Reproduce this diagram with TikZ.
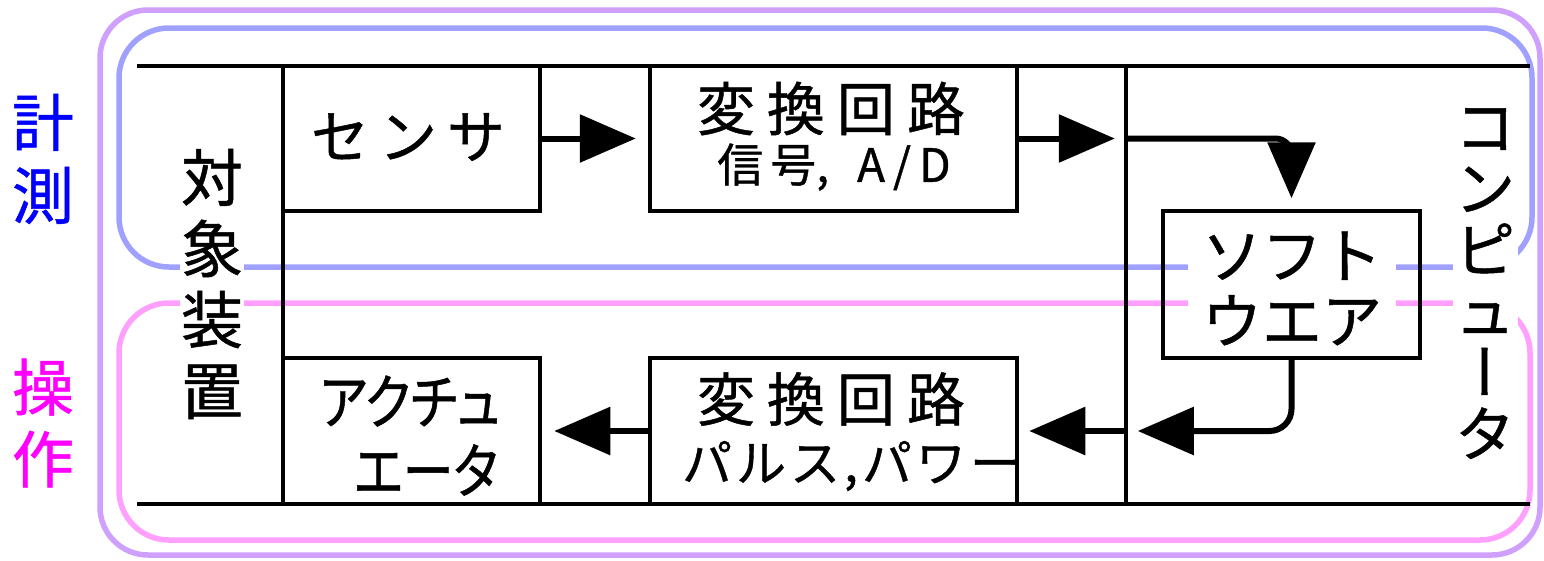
\documentclass[tikz,border=0pt]{standalone}
\usepackage{fontspec}
\usetikzlibrary{arrows.meta,calc}
\newfontfamily\jp[FakeBold=0.8]{Noto Sans CJK JP}
\newfontfamily\jpp[RawFeature=+palt, FakeStretch=0.85, FakeBold=0.8]{Noto Sans CJK JP}
\newfontfamily\jpv[RawFeature=+vert, FakeBold=0.8]{Noto Sans CJK JP}
\newlength\jsw
\newcommand\js{\hspace{\jsw}}
\newcommand\jfs[2]{\fontsize{#1pt}{#2pt}\selectfont}
\definecolor{measc}{RGB}{160,160,255}
\definecolor{opc}{RGB}{255,160,255}
\definecolor{allc}{RGB}{208,160,255}
\definecolor{lblblue}{RGB}{0,0,255}
\definecolor{lblmag}{RGB}{255,0,255}
\tikzset{
  loopline/.style={line width=5.5pt, rounded corners=50pt},
  frame/.style={line width=4.5pt},
  blk/.style={draw, line width=4.5pt, inner sep=0pt},
  region/.style={inner sep=0pt, minimum height=438pt},
  shaft/.style={line width=6pt},
  tipped/.style={line width=6pt, -{Triangle[length=56pt,width=47pt]}},
  jtext/.style={inner sep=0pt, align=center},
}
\begin{document}
\begin{tikzpicture}[x=1pt,y=-1pt]
\useasboundingbox (0,0) rectangle (1544,560);
% loops
\draw[allc, loopline, rounded corners=48pt] (100,10) rectangle (1540,555);
\draw[measc, loopline] (119,28) rectangle (1532,267);
\draw[opc, loopline] (119,303) rectangle (1530,540);
% regions and frame
\node[region, minimum width=146pt] (obj) at (210,285) {};
\node[region, minimum width=404pt] (comp) at (1328,285) {};
\draw[frame] (obj.north west) -- (comp.north east);
\draw[frame] (obj.south west) -- (comp.south east);
\draw[frame] (obj.north east) -- (obj.south east);
\draw[frame] (comp.north west) -- (comp.south west);
% boxes
\node[blk, minimum width=257pt, minimum height=145pt] (sens) at (411.5,138.5) {};
\node[blk, minimum width=367pt, minimum height=145pt] (conv1) at (833.5,138.5) {};
\node[blk, minimum width=257pt, minimum height=146pt] (act) at (411.5,431) {};
\node[blk, minimum width=367pt, minimum height=146pt] (conv2) at (833.5,431) {};
\node[blk, line width=3.5pt, minimum width=257pt, minimum height=147pt] (soft) at (1291.5,284.5) {};
% arrows
\draw[tipped, shorten >=12pt] (sens.east) -- (conv1.west);
\draw[tipped, shorten >=11pt] (conv1.east) -- (comp.west |- conv1.east);
\draw[shaft, rounded corners=16pt] (comp.west |- conv1.east) -| ($(soft.north)+(0,-40)$);
\draw[tipped, shorten >=11pt] ($(soft.north)+(0,-60)$) -- (soft.north);
\draw[shaft, rounded corners=22pt] (soft.south) |- ($(comp.west |- conv2.east)+(58,0)$);
\draw[tipped, shorten >=12pt] ($(comp.west |- conv2.east)+(75,0)$) -- (comp.west |- conv2.east);
\draw[tipped, shorten >=10pt] (comp.west |- conv2.east) -- (conv2.east);
\draw[tipped, shorten >=12pt] (conv2.west) -- (act.east);
% texts
\node[jtext, text=lblblue, font=\jp\jfs{62}{73}] (tmeas) at (43,159) {計\\測};
\node[jtext, text=lblmag, font=\jp\jfs{62}{72}] (tope) at (43,423) {操\\作};
\node[jtext, fill=white, inner xsep=1pt, font=\jp\jfs{62}{71}] (tobj) at (212,284) {対\\象\\装\\置};
\node[jtext, font=\jp\jfs{58}{60}\setlength\jsw{10pt}] (tsens) at (408,137) {セ\js ン\js サ};
\node[jtext, font=\jp\jfs{58}{60}\setlength\jsw{12pt}] (tconv1a) at (831,108.5) {変\js 換\js 回\js 路};
\node[jtext, font=\jp\jfs{46}{48}] (tconv1b) at (834,167) {信\hspace{7pt}号,\hspace{28pt}A\hspace{8pt}/\hspace{8pt}D};
\node[jtext, fill=white, inner xsep=14pt, inner ysep=2pt, font=\jp\jfs{60}{65}] (tsoft) at (1292,288.5) {ソフト\\ウエア};
\node[jtext, fill=white, inner xsep=2.5pt, font=\jp\jfs{60}{61.4}] (tcomp) at (1485,283.5) {コ\\ン\\ピ\\ュ\\{\jpv ー}\\タ};
\node[jtext, font=\jpp\jfs{60}{60}] (tact1) at (410,401) {アクチュ};
\node[jtext, font=\jpp\jfs{60}{60}] (tact2) at (426,470) {エータ};
\node[jtext, font=\jp\jfs{58}{60}\setlength\jsw{12pt}] (tconv2a) at (831,399) {変\js 換\js 回\js 路};
\node[jtext, font=\jp\jfs{50}{52}\setlength\jsw{4pt}] (tconv2b) at (851,466) {パ\js ル\js ス\js,\js パ\js ワ\js ー};
\end{tikzpicture}
\end{document}
